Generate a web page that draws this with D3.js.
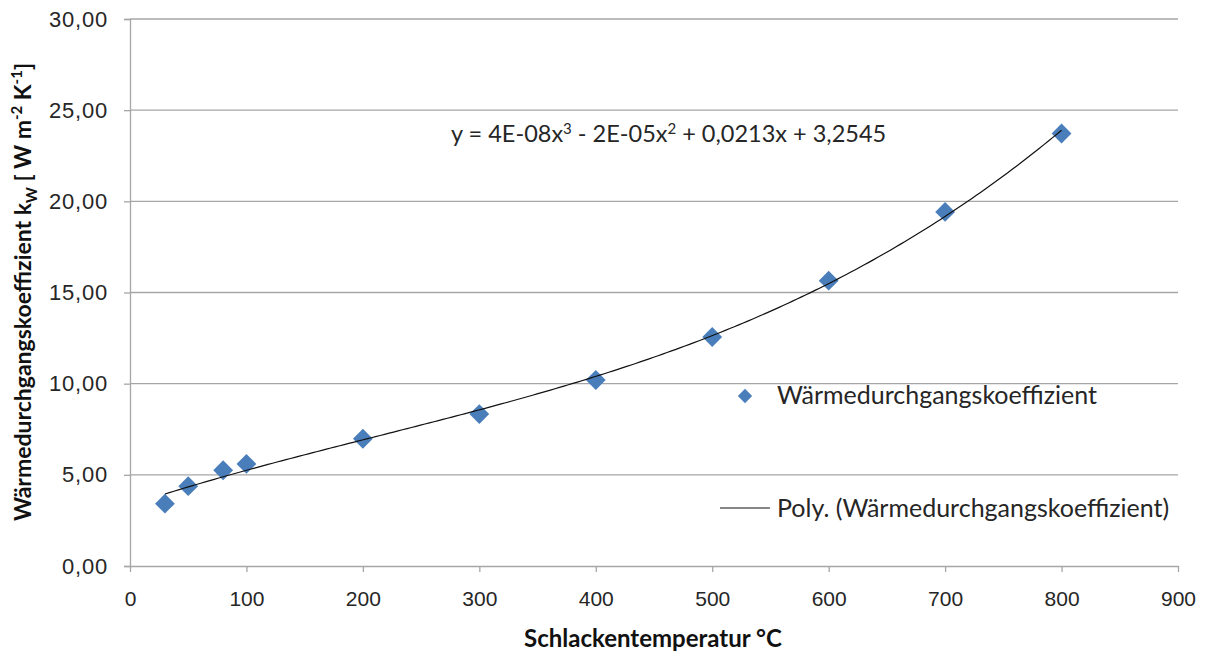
<!DOCTYPE html>
<html>
<head>
<meta charset="utf-8">
<script src="https://cdn.jsdelivr.net/npm/d3@7"></script>
<style>
  html, body { margin: 0; padding: 0; background: #fff; }
  svg { display: block; font-family: Lato, "Open Sans", "DejaVu Sans", sans-serif; }
</style>
</head>
<body>
<svg id="chart" width="1210" height="656"></svg>
<script>
// Slag temperature (°C) and measured heat transfer coefficient k_W
const temperatures = [30, 50, 80, 100, 200, 300, 400, 500, 600, 700, 800];
const coefficients = [3.42, 4.38, 5.25, 5.6, 6.98, 8.33, 10.2, 12.56, 15.65, 19.42, 23.72];
const xTicks = [0, 100, 200, 300, 400, 500, 600, 700, 800, 900];
const yTicks = [0, 5, 10, 15, 20, 25, 30];
// Trend equation, split so the exponents can be raised
const equationParts = [
  ["y = 4E-08x", false], ["3", true], [" - 2E-05x", false], ["2", true], [" + 0,0213x + 3,2545", false]
];
const seriesName = "Wärmedurchgangskoeffizient";
const trendName = "Poly. (Wärmedurchgangskoeffizient)";

const svg = d3.select("#chart");
const plot = { left: 130, right: 1178, top: 19, bottom: 566 };

const x = d3.scaleLinear().domain([0, 900]).range([plot.left, plot.right]);
const y = d3.scaleLinear().domain([0, 30]).range([plot.bottom, plot.top]);

const fmt = v => d3.format(".2f")(v).replace(".", ",");
const gridColor = "#a6a6a6";
const markColor = "#4a7ebb";
const textColor = "#262626";

// Horizontal gridlines
svg.append("g")
  .selectAll("line")
  .data(yTicks.filter(t => t > 0))
  .join("line")
  .attr("x1", plot.left).attr("x2", plot.right)
  .attr("y1", d => y(d)).attr("y2", d => y(d))
  .attr("stroke", gridColor).attr("stroke-width", 1.3);

// Y axis
const yAxis = svg.append("g")
  .attr("transform", `translate(${plot.left},0)`)
  .call(d3.axisLeft(y).tickValues(yTicks).tickFormat(fmt).tickSize(6).tickPadding(16));
yAxis.select(".domain").attr("stroke", gridColor).attr("stroke-width", 1.3);
yAxis.selectAll(".tick line").attr("stroke", gridColor).attr("stroke-width", 1.3);
yAxis.selectAll(".tick text").attr("fill", textColor)
  .style("font-size", "22px").style("letter-spacing", "0.8px");

// X axis
const xAxis = svg.append("g")
  .attr("transform", `translate(0,${plot.bottom})`)
  .call(d3.axisBottom(x).tickValues(xTicks).tickSize(6).tickSizeOuter(0).tickPadding(19));
xAxis.select(".domain").attr("stroke", gridColor).attr("stroke-width", 1.3);
xAxis.selectAll(".tick line").attr("stroke", gridColor).attr("stroke-width", 1.3);
xAxis.selectAll(".tick text").attr("fill", textColor).style("font-size", "21px");

// Least-squares cubic fit of the measurements (polynomial trend line)
function polyFit(xs, ys, degree) {
  const n = degree + 1;
  const A = Array.from({ length: n }, () => new Array(n + 1).fill(0));
  xs.forEach((xv, i) => {
    for (let r = 0; r < n; r++) {
      for (let c = 0; c < n; c++) A[r][c] += Math.pow(xv, r + c);
      A[r][n] += ys[i] * Math.pow(xv, r);
    }
  });
  for (let p = 0; p < n; p++) {
    let max = p;
    for (let r = p + 1; r < n; r++) if (Math.abs(A[r][p]) > Math.abs(A[max][p])) max = r;
    [A[p], A[max]] = [A[max], A[p]];
    for (let r = p + 1; r < n; r++) {
      const f = A[r][p] / A[p][p];
      for (let c = p; c <= n; c++) A[r][c] -= f * A[p][c];
    }
  }
  const coef = new Array(n).fill(0);
  for (let r = n - 1; r >= 0; r--) {
    let s = A[r][n];
    for (let c = r + 1; c < n; c++) s -= A[r][c] * coef[c];
    coef[r] = s / A[r][r];
  }
  return coef;
}
const coef = polyFit(temperatures, coefficients, 3);
const evalPoly = t => coef.reduce((s, c, i) => s + c * Math.pow(t, i), 0);
const tMin = d3.min(temperatures), tMax = d3.max(temperatures);
const curve = d3.range(0, 201).map(i => {
  const t = tMin + (tMax - tMin) * i / 200;
  return [t, evalPoly(t)];
});

// Data markers (diamonds)
const diamond = d3.symbol().type(d3.symbolDiamond2).size(250);
svg.append("g")
  .selectAll("path")
  .data(temperatures.map((t, i) => [t, coefficients[i]]))
  .join("path")
  .attr("d", diamond)
  .attr("transform", d => `translate(${x(d[0])},${y(d[1])})`)
  .attr("fill", markColor);

// Trend line drawn above the markers
svg.append("path")
  .datum(curve)
  .attr("d", d3.line().x(d => x(d[0])).y(d => y(d[1])))
  .attr("fill", "none")
  .attr("stroke", "#111")
  .attr("stroke-width", 1.2);

// Trend equation
const eq = svg.append("text")
  .attr("x", 451).attr("y", 142)
  .attr("fill", textColor)
  .style("font-size", "23.5px");
let raised = false;
equationParts.forEach(([txt, sup]) => {
  const dy = sup === raised ? 0 : (sup ? -8 : 8);
  raised = sup;
  eq.append("tspan")
    .attr("dy", dy)
    .style("font-size", sup ? "15px" : null)
    .text(txt);
});

// Legend
const legend = svg.append("g");
legend.append("path")
  .attr("d", d3.symbol().type(d3.symbolDiamond2).size(130))
  .attr("transform", "translate(745,396)")
  .attr("fill", markColor);
legend.append("text")
  .attr("x", 777).attr("y", 404)
  .attr("fill", textColor).style("font-size", "25px")
  .text(seriesName);
legend.append("line")
  .attr("x1", 720).attr("x2", 770).attr("y1", 508).attr("y2", 508)
  .attr("stroke", "#111").attr("stroke-width", 1.2);
legend.append("text")
  .attr("x", 777).attr("y", 517)
  .attr("fill", textColor).style("font-size", "25px")
  .text(trendName);

// Axis titles
svg.append("text")
  .attr("x", 653).attr("y", 647)
  .attr("text-anchor", "middle")
  .attr("fill", "#111")
  .style("font-size", "24px").style("font-weight", "bold")
  .text("Schlackentemperatur °C");

const yTitle = svg.append("text")
  .attr("transform", "translate(31,292) rotate(-90)")
  .attr("text-anchor", "middle")
  .attr("fill", "#111")
  .style("font-size", "23px").style("font-weight", "bold");
yTitle.append("tspan").text("Wärmedurchgangskoeffizient k");
yTitle.append("tspan").attr("dy", 6).style("font-size", "15px").text("W");
yTitle.append("tspan").attr("dy", -6).text(" [ W m");
yTitle.append("tspan").attr("dy", -9).style("font-size", "15px").text("-2");
yTitle.append("tspan").attr("dy", 9).text(" K");
yTitle.append("tspan").attr("dy", -9).style("font-size", "15px").text("-1");
yTitle.append("tspan").attr("dy", 9).text("]");
</script>
</body>
</html>
